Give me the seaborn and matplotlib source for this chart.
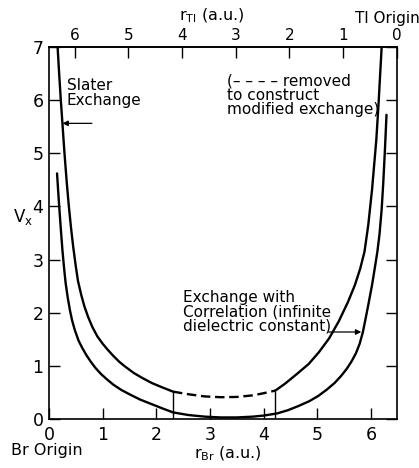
import matplotlib
matplotlib.use("Agg")
import matplotlib.pyplot as plt
import seaborn as sns
import pandas as pd

sns.set_style("ticks", {'axes.edgecolor': 'black', 'text.color': 'black',
                        'xtick.color': 'black', 'ytick.color': 'black',
                        'axes.labelcolor': 'black'})
plt.rcParams['font.family'] = ['DejaVu Sans']
plt.rcParams['mathtext.default'] = 'regular'

# Tl-Br separation (a.u.), used for the top r_Tl scale
R_BOND = 6.48

# Slater exchange, solid part near Br
slater_left_r = [0.16, 0.19, 0.22, 0.25, 0.29, 0.33, 0.37, 0.41, 0.45, 0.50, 0.54,
                 0.60, 0.66, 0.73, 0.81, 0.90, 1.00, 1.10, 1.20, 1.31, 1.42, 1.58,
                 1.75, 1.92, 2.11, 2.31]
slater_left_v = [7.0, 6.48, 6.0, 5.56, 4.98, 4.46, 4.0, 3.60, 3.25, 2.87, 2.60,
                 2.34, 2.12, 1.92, 1.73, 1.56, 1.42, 1.30, 1.19, 1.08, 0.99, 0.87,
                 0.77, 0.68, 0.60, 0.52]
# part removed to build the modified exchange (dashed)
removed_r = [2.31, 2.60, 2.90, 3.20, 3.50, 3.80, 4.00, 4.22]
removed_v = [0.52, 0.47, 0.43, 0.415, 0.42, 0.45, 0.49, 0.54]
# Slater exchange, solid part near Tl
slater_right_r = [4.22, 4.40, 4.63, 4.84, 5.03, 5.22, 5.40, 5.57, 5.70, 5.80,
                  5.88, 5.95, 6.02, 6.06, 6.10, 6.14, 6.17, 6.20]
slater_right_v = [0.54, 0.67, 0.86, 1.04, 1.26, 1.52, 1.84, 2.20, 2.52, 2.83,
                  3.15, 3.65, 4.31, 4.78, 5.25, 5.90, 6.45, 7.0]

# Exchange with correlation (infinite dielectric constant)
corr_r = [0.15, 0.17, 0.19, 0.22, 0.25, 0.28, 0.31, 0.35, 0.39, 0.43, 0.48,
          0.55, 0.62, 0.70, 0.78, 0.87, 0.97, 1.08, 1.20, 1.35, 1.52, 1.70,
          1.90, 2.10, 2.31, 2.60, 2.90, 3.20, 3.50, 3.80, 4.00, 4.25, 4.45,
          4.65, 4.85, 5.02, 5.18, 5.32, 5.44, 5.55, 5.64, 5.72, 5.79, 5.85,
          5.90, 5.96, 6.02, 6.07, 6.12, 6.16, 6.20, 6.23, 6.26, 6.29]
corr_v = [4.62, 4.30, 4.0, 3.58, 3.18, 2.85, 2.56, 2.28, 2.05, 1.86, 1.68,
          1.48, 1.34, 1.20, 1.08, 0.96, 0.85, 0.75, 0.65, 0.55, 0.46, 0.37,
          0.29, 0.21, 0.13, 0.08, 0.05, 0.035, 0.035, 0.05, 0.07, 0.11, 0.17,
          0.25, 0.34, 0.44, 0.56, 0.68, 0.81, 0.95, 1.09, 1.24, 1.42, 1.64,
          1.89, 2.20, 2.52, 2.83, 3.15, 3.48, 3.95, 4.45, 5.05, 5.72]

# vertical cuts where the dashed section starts / ends
cut_r = [2.31, 4.22]
cut_v = [0.52, 0.54]

bottom_ticks = [0, 1, 2, 3, 4, 5, 6]
top_ticks = [0, 1, 2, 3, 4, 5, 6]
y_ticks = [0, 1, 2, 3, 4, 5, 6, 7]

W, H = 419, 468


def px(x, y):
    return x / W, 1 - y / H


fig = plt.figure(figsize=(W / 100, H / 100), dpi=100)
ax = fig.add_axes([49 / W, 1 - 419.3 / H, (396.7 - 49) / W, (419.3 - 46.7) / H])

line_kw = dict(color='black', linewidth=1.7, estimator=None, ax=ax)
sns.lineplot(data=pd.DataFrame({'r': slater_left_r, 'v': slater_left_v}), x='r', y='v', **line_kw)
sns.lineplot(data=pd.DataFrame({'r': slater_right_r, 'v': slater_right_v}), x='r', y='v', **line_kw)
sns.lineplot(data=pd.DataFrame({'r': removed_r, 'v': removed_v}), x='r', y='v',
             linestyle=(0, (4, 2)), **line_kw)
sns.lineplot(data=pd.DataFrame({'r': corr_r, 'v': corr_v}), x='r', y='v', **line_kw)
ax.vlines(cut_r, 0, cut_v, color='black', linewidth=1.0)

ax.set_xlim(0, R_BOND)
ax.set_ylim(0, 7)
ax.set_xticks(bottom_ticks)
ax.set_yticks(y_ticks)
ax.set_xlabel('')
ax.set_ylabel('')
ax.tick_params(direction='in', length=8, width=1.0, labelsize=12.5,
               right=True, top=False, pad=4)
ax.tick_params(axis='x', pad=5)
for s in ax.spines.values():
    s.set_linewidth(1.2)
    s.set_visible(True)

top = ax.secondary_xaxis('top', functions=(lambda r: R_BOND - r, lambda t: R_BOND - t))
top.set_xticks(top_ticks)
top.tick_params(direction='in', length=8, width=1.0, labelsize=11, pad=2.5)
top.spines['top'].set_linewidth(1.2)

# axis titles
fig.text(*px(23, 217), 'V$_x$', ha='center', va='center', fontsize=12)
fig.text(*px(228, 454), 'r$_{Br}$ (a.u.)', ha='center', va='center', fontsize=11.5)
fig.text(*px(47, 450), 'Br Origin', ha='center', va='center', fontsize=11.5)
fig.text(*px(212, 16), 'r$_{Tl}$ (a.u.)', ha='center', va='center', fontsize=11.5)
fig.text(*px(387, 18), 'Tl Origin', ha='center', va='center', fontsize=11)

# annotations
fig.text(*px(67, 93), 'Slater\nExchange', ha='left', va='center',
         fontsize=11, linespacing=0.95)
ax.annotate('', xy=(slater_left_r[3], slater_left_v[3]), xytext=(0.80, slater_left_v[3]),
            arrowprops=dict(arrowstyle='-|>', color='black', lw=0.9, mutation_scale=8,
                            shrinkA=0, shrinkB=0))

fig.text(*px(227, 95), '(\u2013 \u2013 \u2013 \u2013 removed\nto construct\nmodified exchange)',
         ha='left', va='center', fontsize=11, linespacing=0.95)

fig.text(*px(183, 312), 'Exchange with\nCorrelation (infinite\ndielectric constant)',
         ha='left', va='center', fontsize=11, linespacing=0.95)
ax.annotate('', xy=(corr_r[43] - 0.03, corr_v[43]), xytext=(5.21, corr_v[43]),
            arrowprops=dict(arrowstyle='-|>', color='black', lw=0.9, mutation_scale=8,
                            shrinkA=0, shrinkB=0))

plt.savefig('out.png', dpi=100)
